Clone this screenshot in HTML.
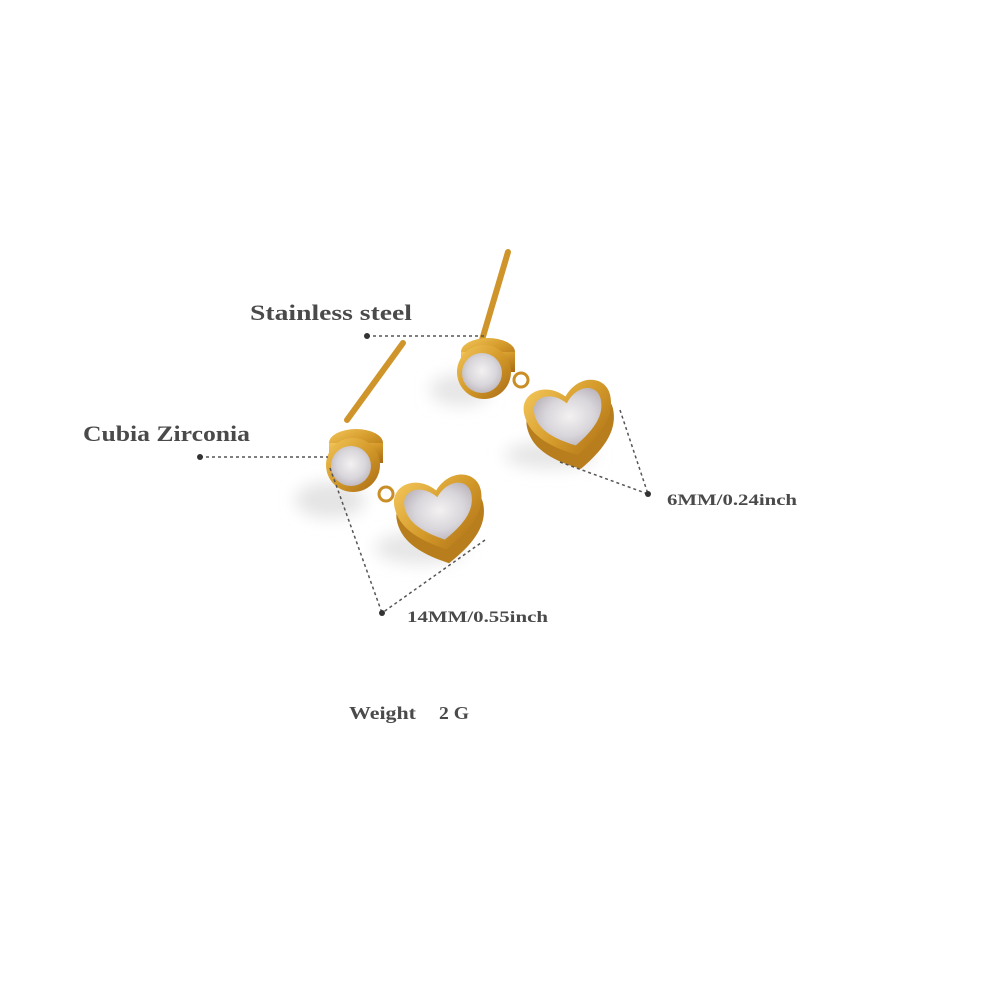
<!DOCTYPE html>
<html><head><meta charset="utf-8"><style>
html,body{margin:0;padding:0;background:#fff;}
svg{display:block}
text{font-family:"Liberation Serif",serif;font-weight:bold;fill:#4a4a4a}
</style></head><body>
<svg width="1000" height="1000" viewBox="0 0 1000 1000" xmlns="http://www.w3.org/2000/svg">
<defs>
<linearGradient id="g" x1="0" y1="0" x2="1" y2="1">
<stop offset="0" stop-color="#f3c65a"/><stop offset="0.5" stop-color="#d49a2a"/><stop offset="1" stop-color="#a86a14"/>
</linearGradient>
<radialGradient id="gem" cx="0.5" cy="0.45" r="0.6">
<stop offset="0" stop-color="#f4f1f2"/><stop offset="0.6" stop-color="#d9d6db"/><stop offset="1" stop-color="#b9b4bb"/>
</radialGradient>
<filter id="b" x="-1" y="-1" width="3" height="3"><feGaussianBlur stdDeviation="8"/></filter>
<path id="heart" d="M0 38 C-30 22 -44 6 -44 -14 C-44 -34 -18 -42 0 -22 C18 -42 44 -34 44 -14 C44 6 30 22 0 38 Z"/>
<path id="heartIn" d="M0 28 C-22 16 -34 4 -34 -12 C-34 -28 -14 -32 0 -15 C14 -32 34 -28 34 -12 C34 4 22 16 0 28 Z"/>
</defs>
<rect width="1000" height="1000" fill="#fff"/>
<!-- shadows -->
<ellipse cx="330" cy="500" rx="35" ry="18" fill="#e4e4e4" filter="url(#b)"/>
<ellipse cx="420" cy="548" rx="45" ry="16" fill="#e6e6e6" filter="url(#b)"/>
<ellipse cx="460" cy="390" rx="30" ry="16" fill="#e6e6e6" filter="url(#b)"/>
<ellipse cx="550" cy="455" rx="45" ry="14" fill="#e6e6e6" filter="url(#b)"/>
<!-- right earring -->
<line x1="482" y1="340" x2="508" y2="252" stroke="#cf952b" stroke-width="6" stroke-linecap="round"/>
<ellipse cx="488" cy="352" rx="27" ry="14" fill="url(#g)"/>
<rect x="461" y="352" width="54" height="20" fill="url(#g)"/>
<circle cx="484" cy="372" r="27" fill="url(#g)"/>
<circle cx="482" cy="373" r="20" fill="url(#gem)"/>
<circle cx="521" cy="380" r="7" fill="none" stroke="#c98e25" stroke-width="3"/>
<g transform="translate(570,418) rotate(-12)">
<use href="#heart" transform="translate(0,14)" fill="#b87d1c"/>
<use href="#heart" fill="url(#g)"/>
<use href="#heartIn" fill="url(#gem)"/>
</g>
<!-- left earring -->
<line x1="347" y1="420" x2="403" y2="343" stroke="#cf952b" stroke-width="6" stroke-linecap="round"/>
<ellipse cx="356" cy="443" rx="27" ry="14" fill="url(#g)"/>
<rect x="329" y="443" width="54" height="20" fill="url(#g)"/>
<circle cx="353" cy="465" r="27" fill="url(#g)"/>
<circle cx="351" cy="466" r="20" fill="url(#gem)"/>
<circle cx="386" cy="494" r="7" fill="none" stroke="#c98e25" stroke-width="3"/>
<g transform="translate(440,512) rotate(-10)">
<use href="#heart" transform="translate(0,14)" fill="#b87d1c"/>
<use href="#heart" fill="url(#g)"/>
<use href="#heartIn" fill="url(#gem)"/>
</g>
<!-- annotation lines -->
<g stroke="#555" stroke-width="1.5" stroke-dasharray="3,3" fill="none">
<line x1="367" y1="336" x2="485" y2="336"/>
<line x1="200" y1="457" x2="328" y2="457"/>
<line x1="620" y1="410" x2="648" y2="494"/>
<line x1="560" y1="462" x2="648" y2="494"/>
<line x1="330" y1="468" x2="382" y2="613"/>
<line x1="485" y1="540" x2="382" y2="613"/>
</g>
<g fill="#333">
<circle cx="367" cy="336" r="3"/><circle cx="200" cy="457" r="3"/>
<circle cx="648" cy="494" r="3"/><circle cx="382" cy="613" r="3"/>
</g>
<text x="250" y="320" font-size="22" textLength="162" lengthAdjust="spacingAndGlyphs">Stainless steel</text>
<text x="83" y="441" font-size="22" textLength="167" lengthAdjust="spacingAndGlyphs">Cubia Zirconia</text>
<text x="667" y="505" font-size="16" textLength="130" lengthAdjust="spacingAndGlyphs">6MM/0.24inch</text>
<text x="407" y="622" font-size="16" textLength="141" lengthAdjust="spacingAndGlyphs">14MM/0.55inch</text>
<text x="349" y="719" font-size="18" textLength="67" lengthAdjust="spacingAndGlyphs">Weight</text>
<text x="439" y="719" font-size="18" textLength="30" lengthAdjust="spacingAndGlyphs">2 G</text>
</svg>
</body></html>
